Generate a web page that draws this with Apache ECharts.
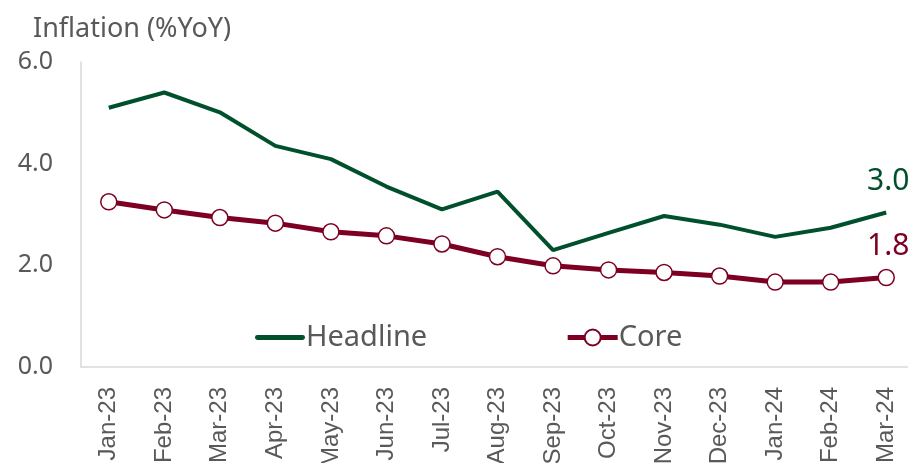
<!DOCTYPE html>
<html>
<head>
<meta charset="utf-8">
<style>
  html, body { margin: 0; padding: 0; background: #ffffff; }
  #chart { width: 908px; height: 463px; }
</style>
<script src="https://cdn.jsdelivr.net/npm/echarts@6/dist/echarts.min.js"></script>
</head>
<body>
<div id="chart"></div>
<script>
// Monthly inflation, % year on year
const months = ['Jan-23', 'Feb-23', 'Mar-23', 'Apr-23', 'May-23', 'Jun-23', 'Jul-23',
  'Aug-23', 'Sep-23', 'Oct-23', 'Nov-23', 'Dec-23', 'Jan-24', 'Feb-24', 'Mar-24'];
const headline = [5.10, 5.40, 5.01, 4.35, 4.09, 3.55, 3.10, 3.45, 2.30, 2.64, 2.97, 2.80, 2.56, 2.74, 3.04];
const core = [3.25, 3.09, 2.94, 2.83, 2.66, 2.58, 2.42, 2.17, 1.99, 1.91, 1.86, 1.79, 1.67, 1.67, 1.76];
const yTicks = [0, 2, 4, 6];

const GREEN = '#00502c';
const MAROON = '#7d0022';
const TEXT = '#595959';
const FONT = '"Noto Sans", sans-serif';
const AXIS_FONT = '"Liberation Sans", Arial, sans-serif';

// Latest value written above the end of each line
function endLabel(color) {
  return {
    show: true,
    color: color,
    fontSize: 30,
    fontFamily: FONT,
    align: 'center',
    verticalAlign: 'bottom',
    distance: 0,
    offset: [2, -16],
    formatter: p => Number(p.value).toFixed(1)
  };
}

const chart = echarts.init(document.getElementById('chart'));
chart.setOption({
  animation: false,
  textStyle: { fontFamily: FONT },
  title: {
    text: 'Inflation (%YoY)',
    left: 28, top: 11,
    textStyle: { color: TEXT, fontSize: 27, fontWeight: 'normal', fontFamily: FONT }
  },
  legend: {
    left: 250, top: 318,
    itemWidth: 50, itemHeight: 20, itemGap: 138,
    symbolKeepAspect: true,
    lineStyle: { width: 5 },
    textStyle: { color: TEXT, fontSize: 29, fontFamily: FONT, padding: [0, 0, 0, -4] },
    data: [
      { name: 'Headline', icon: 'path://M2,0 L48,0 A2.5,2.5 0 0 1 48,5 L2,5 A2.5,2.5 0 0 1 2,0 Z' },
      { name: 'Core' }
    ]
  },
  grid: { left: 81, right: -6, top: 62, bottom: 96, containLabel: false, outerBoundsMode: 'none' },
  xAxis: {
    type: 'category',
    data: months,
    boundaryGap: true,
    axisLine: { lineStyle: { color: '#d9d9d9', width: 1.5 } },
    axisTick: { show: false },
    axisLabel: { rotate: 90, color: TEXT, fontSize: 24, margin: 20, fontFamily: AXIS_FONT }
  },
  yAxis: {
    type: 'value',
    min: yTicks[0], max: yTicks[yTicks.length - 1], interval: 2,
    axisLine: { show: true, lineStyle: { color: '#d9d9d9', width: 1.5 } },
    axisTick: { show: false },
    splitLine: { show: false },
    axisLabel: { color: TEXT, fontSize: 25, margin: 28, fontFamily: FONT,
      formatter: v => v.toFixed(1) }
  },
  series: [
    {
      name: 'Headline',
      type: 'line',
      data: headline,
      showSymbol: false,
      symbol: 'none',
      lineStyle: { color: GREEN, width: 4 },
      itemStyle: { color: GREEN },
      endLabel: endLabel(GREEN)
    },
    {
      name: 'Core',
      type: 'line',
      data: core,
      symbol: 'circle',
      symbolSize: 16,
      lineStyle: { color: MAROON, width: 5 },
      itemStyle: { color: '#ffffff', borderColor: MAROON, borderWidth: 1.5 },
      endLabel: endLabel(MAROON)
    }
  ]
});
</script>
</body>
</html>
